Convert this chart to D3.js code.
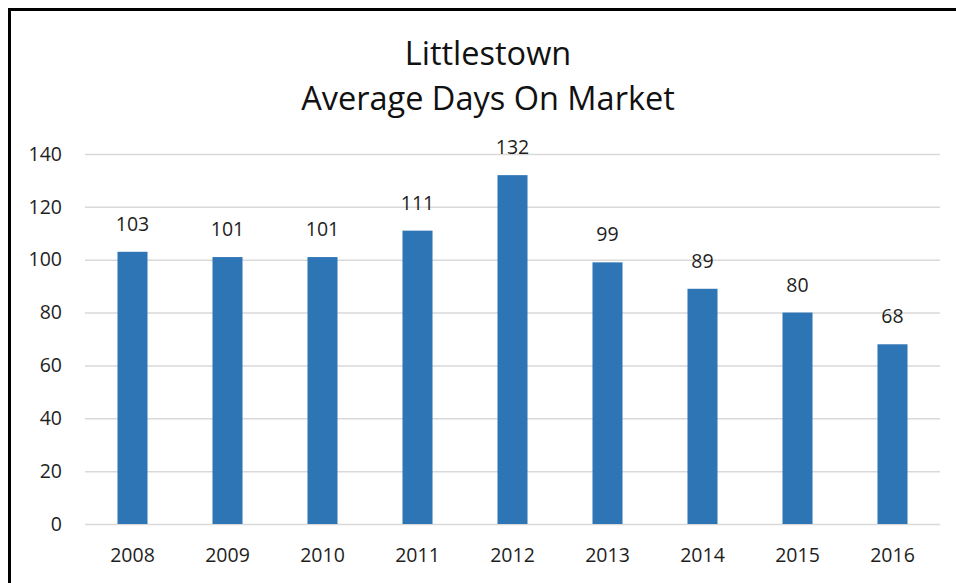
<!DOCTYPE html>
<html>
<head>
<meta charset="utf-8">
<script src="https://cdn.jsdelivr.net/npm/d3@7"></script>
<style>
  body { margin: 0; background: #fff; }
  svg { display: block; }
</style>
</head>
<body>
<svg id="chart"></svg>
<script>
// chart data
const years = ["2008", "2009", "2010", "2011", "2012", "2013", "2014", "2015", "2016"];
const avgDays = [103, 101, 101, 111, 132, 99, 89, 80, 68];
const yTicks = [0, 20, 40, 60, 80, 100, 120, 140];
const titleLines = ["Littlestown", "Average Days On Market"];

const width = 956;
const height = 583;
const margin = { top: 154, right: 16, bottom: 59, left: 85 };
const font = "'Open Sans', 'Noto Sans', sans-serif";
const labelSize = 19.5;

const svg = d3.select("#chart")
  .attr("width", width)
  .attr("height", height);

svg.append("rect")
  .attr("width", width)
  .attr("height", height)
  .attr("fill", "#fff");

// frame (only top + left visible in the crop)
svg.append("rect")
  .attr("x", 9.5)
  .attr("y", 9.5)
  .attr("width", width + 20)
  .attr("height", height + 20)
  .attr("fill", "none")
  .attr("stroke", "#000")
  .attr("stroke-width", 3);

// title
svg.append("g")
  .selectAll("text")
  .data(titleLines)
  .enter()
  .append("text")
  .attr("x", 488)
  .attr("y", (d, i) => 65 + i * 45)
  .attr("text-anchor", "middle")
  .attr("font-family", font)
  .attr("font-size", 32.5)
  .attr("fill", "#111")
  .text(d => d);

const innerW = width - margin.left - margin.right;
const innerH = height - margin.top - margin.bottom;

const xScale = d3.scaleBand()
  .domain(years)
  .range([0, innerW])
  .paddingInner(0.684)
  .paddingOuter(0.342);

const yScale = d3.scaleLinear()
  .domain([0, 140])
  .range([innerH, 0]);

const g = svg.append("g")
  .attr("transform", `translate(${margin.left},${margin.top})`);

// y axis with gridlines
const yAxis = d3.axisLeft(yScale)
  .tickValues(yTicks)
  .tickSize(-innerW)
  .tickPadding(23);

const yAxisGroup = g.append("g")
  .attr("class", "y axis")
  .call(yAxis);

yAxisGroup.select("path.domain").remove();
yAxisGroup.selectAll("line")
  .attr("stroke", "#d9d9d9")
  .attr("stroke-width", 1.5);
yAxisGroup.selectAll("text")
  .attr("font-family", font)
  .attr("font-size", labelSize)
  .attr("fill", "#1e1e1e");

// x axis
const xAxisGroup = g.append("g")
  .attr("class", "x axis")
  .attr("transform", `translate(0,${innerH})`)
  .call(d3.axisBottom(xScale).tickSize(0).tickPadding(24));

xAxisGroup.select("path.domain").remove();
xAxisGroup.selectAll("text")
  .attr("font-family", font)
  .attr("font-size", labelSize)
  .attr("fill", "#1e1e1e");

// bars
const rows = years.map((y, i) => ({ year: y, value: avgDays[i] }));

g.selectAll(".bar")
  .data(rows)
  .enter()
  .append("rect")
  .attr("class", "bar")
  .attr("x", d => xScale(d.year))
  .attr("y", d => yScale(d.value))
  .attr("width", xScale.bandwidth())
  .attr("height", d => innerH - yScale(d.value))
  .attr("fill", "#2e75b6");

// value labels
g.selectAll(".label")
  .data(rows)
  .enter()
  .append("text")
  .attr("class", "label")
  .attr("x", d => xScale(d.year) + xScale.bandwidth() / 2)
  .attr("y", d => yScale(d.value) - 21)
  .attr("text-anchor", "middle")
  .attr("font-family", font)
  .attr("font-size", labelSize)
  .attr("fill", "#1e1e1e")
  .text(d => d.value);
</script>
</body>
</html>
